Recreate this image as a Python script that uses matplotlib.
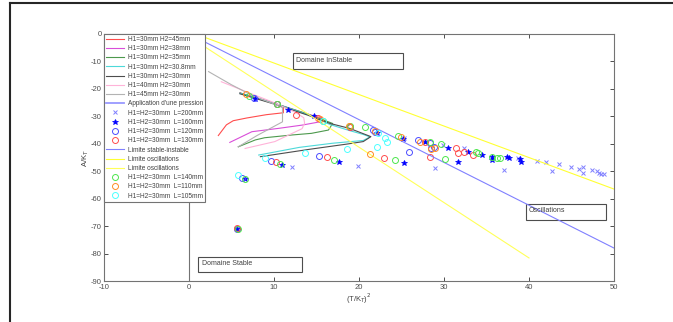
import numpy as np
import matplotlib.pyplot as plt
from matplotlib.lines import Line2D
from matplotlib.patches import Rectangle

plt.rcParams['font.family'] = ['Liberation Sans', 'DejaVu Sans']
plt.rcParams['axes.unicode_minus'] = False

# courbes de stabilite (T/K_T)^2 , A/K_T
h45_x = [6.0, 8.0, 10.0, 11.1, 11.1, 9.1, 6.8, 5.2, 4.4, 3.45]
h45_y = [-21.5, -23.4, -25.3, -26.7, -28.7, -29.4, -30.6, -31.6, -33.1, -37.0]
h38_x = [6.0, 10.0, 14.0, 15.6, 15.4, 13.3, 10.5, 7.4, 5.8, 4.8]
h38_y = [-21.5, -25.2, -29.2, -30.6, -32.0, -33.2, -34.4, -35.6, -38.0, -39.5]
h35_x = [6.0, 10.0, 14.0, 16.9, 16.4, 14.4, 12.1, 8.9, 7.8, 5.8]
h35_y = [-21.5, -25.2, -29.2, -32.6, -35.0, -36.2, -36.8, -37.8, -38.6, -41.1]
h308_x = [6.0, 10.0, 14.0, 16.6, 18.9, 20.5, 21.3, 20.5, 16.9, 13.0, 8.2]
h308_y = [-21.6, -25.3, -29.4, -33.0, -35.2, -36.6, -37.5, -38.8, -39.8, -41.3, -44.1]
h30_x = [6.0, 10.0, 14.0, 16.6, 18.9, 21.4, 20.5, 18.6, 14.2, 8.4]
h30_y = [-21.8, -25.5, -29.6, -32.6, -34.4, -37.4, -39.2, -40.1, -42.0, -44.7]
h40_x = [3.8, 7.2, 10.0, 12.5, 13.5, 13.6, 13.3, 10.1, 6.6]
h40_y = [-17.4, -21.6, -25.0, -28.5, -30.5, -32.5, -34.5, -39.2, -41.7]
h45b_x = [2.3, 5.0, 7.5, 10.3, 11.0, 11.0, 8.0, 5.8]
h45b_y = [-13.7, -18.5, -22.5, -25.9, -26.8, -32.0, -37.0, -41.1]

# limites
lim_si_x = [0, 50]
lim_si_y = [0, -78]
lim_osc1_x = [0, 50]
lim_osc1_y = [0.9, -56.5]
lim_osc2_x = [0, 40]
lim_osc2_y = [-0.9, -81.6]

# mesures H1=H2=30mm
L200_x = [12.1, 19.9, 25.3, 28.9, 29.9, 32.3, 37.0, 38.7, 40.9, 42.0, 42.7, 43.5, 44.9,
          45.9, 46.3, 46.3, 47.4, 48.0, 48.2, 48.5, 48.8]
L200_y = [-48.4, -48.0, -38.0, -48.7, -40.5, -41.7, -49.6, -45.3, -46.2, -46.5, -49.9, -47.4, -48.6,
          -49.3, -48.6, -50.5, -49.6, -49.9, -50.8, -51.0, -51.0]
L160_x = [5.7, 6.6, 7.8, 10.9, 11.7, 14.7, 17.7, 22.1, 25.2, 25.3, 27.8, 30.5, 31.6,
          32.8, 34.5, 35.7, 35.7, 37.4, 37.6, 38.9, 39.0]
L160_y = [-71.1, -53.0, -23.7, -47.6, -27.7, -29.9, -46.5, -36.2, -38.3, -47.1, -39.2, -41.7, -46.5,
          -42.9, -44.1, -44.7, -45.9, -44.9, -45.2, -45.7, -46.5]
L120_x = [5.7, 6.2, 7.6, 10.3, 9.7, 15.3, 18.9, 21.6, 21.9, 25.9, 26.9, 28.4, 28.8, 28.5]
L120_y = [-71.0, -52.5, -23.4, -25.5, -46.3, -44.5, -33.8, -35.0, -35.7, -43.1, -38.6, -39.8, -41.2, -41.7]
L130_x = [5.6, 10.3, 12.6, 15.2, 10.2, 16.2, 18.9, 22.9, 27.8, 28.3, 31.4, 31.7, 32.4, 33.4]
L130_y = [-70.8, -25.5, -29.5, -30.7, -46.8, -44.9, -33.8, -45.1, -39.2, -44.7, -41.7, -43.5, -42.9, -44.1]
L140_x = [5.8, 6.6, 7.1, 10.4, 15.8, 10.7, 17.0, 18.9, 20.7, 24.2, 24.6, 28.3, 29.6, 30.1,
          33.8, 34.0, 35.7, 36.2, 36.6]
L140_y = [-71.0, -53.0, -22.5, -25.6, -31.7, -47.5, -45.9, -33.5, -33.8, -45.9, -37.2, -39.4, -40.1, -45.6,
          -42.9, -43.5, -44.7, -45.3, -45.3]
L110_x = [6.7, 15.4, 18.8, 21.9, 24.9, 21.3, 27.2, 28.5, 28.9]
L110_y = [-22.0, -30.8, -33.5, -35.2, -37.6, -43.8, -39.2, -42.0, -41.5]
L105_x = [5.8, 8.9, 13.6, 15.8, 18.6, 22.1, 22.2, 23.0, 23.3]
L105_y = [-51.5, -45.1, -43.5, -31.7, -41.9, -41.0, -36.0, -38.0, -39.2]

fig = plt.figure(figsize=(6.73, 3.22), dpi=100)
ax = fig.add_axes([104 / 673, 1 - 281 / 322, 510 / 673, 247 / 322])

lw = 0.8
ax.plot(h45_x, h45_y, color=(1, 0.3, 0.3), lw=lw, label='H1=30mm H2=45mm')
ax.plot(h38_x, h38_y, color=(0.85, 0.3, 0.85), lw=lw, label='H1=30mm H2=38mm')
ax.plot(h35_x, h35_y, color=(0.3, 0.6, 0.3), lw=lw, label='H1=30mm H2=35mm')
ax.plot(h308_x, h308_y, color=(0.3, 0.85, 0.85), lw=lw, label='H1=30mm H2=30.8mm')
ax.plot(h30_x, h30_y, color=(0.3, 0.3, 0.3), lw=lw, label='H1=30mm H2=30mm')
ax.plot(h40_x, h40_y, color=(1, 0.7, 0.85), lw=lw, label='H1=40mm H2=30mm')
ax.plot(h45b_x, h45b_y, color=(0.7, 0.7, 0.7), lw=lw, label='H1=45mm H2=30mm')
ax.plot([], [], color=(0.6, 0.6, 1), lw=1.3, label="Application d'une pression")

ms = 4.3
ax.plot(L200_x, L200_y, 'x', color=(0.5, 0.5, 1), ms=3, mew=0.7, label='H1=H2=30mm  L=200mm')
ax.plot(L160_x, L160_y, '*', color=(0, 0, 1), ms=4, mew=0.5, label='H1=H2=30mm  L=160mm')
ax.plot(L120_x, L120_y, 'o', mfc='none', mec=(0.3, 0.3, 1), ms=ms, mew=0.7, label='H1=H2=30mm  L=120mm')
ax.plot(L130_x, L130_y, 'o', mfc='none', mec=(1, 0.3, 0.3), ms=ms, mew=0.7, label='H1=H2=30mm  L=130mm')
ax.plot(lim_si_x, lim_si_y, color=(0.5, 0.5, 1), lw=lw, label='Limite stable-instable')
ax.plot(lim_osc1_x, lim_osc1_y, color=(1, 1, 0.2), lw=lw, label='Limite oscillations')
ax.plot(lim_osc2_x, lim_osc2_y, color=(1, 1, 0.35), lw=lw, label='Limite oscillations')
ax.plot(L140_x, L140_y, 'o', mfc='none', mec=(0.3, 0.9, 0.3), ms=ms, mew=0.7, label='H1=H2=30mm  L=140mm')
ax.plot(L110_x, L110_y, 'o', mfc='none', mec=(1, 0.55, 0.15), ms=ms, mew=0.7, label='H1=H2=30mm  L=110mm')
ax.plot(L105_x, L105_y, 'o', mfc='none', mec=(0.3, 1, 1), ms=ms, mew=0.7, label='H1=H2=30mm  L=105mm')

ax.axvline(0, color=(0.45, 0.45, 0.45), lw=0.8)

# zones
zones = [('Domaine InStable', 12.2, -12.8, 13.0, 5.8),
         ('Domaine Stable', 1.1, -86.7, 12.2, 5.4),
         ('Oscillations', 39.6, -67.8, 9.4, 5.8)]
for txt, x0, y0, w, h in zones:
    ax.add_patch(Rectangle((x0, y0), w, h, fill=False, ec=(0.3, 0.3, 0.3), lw=0.8))
    ax.text(x0 + 0.4, y0 + h - 1.2, txt, fontsize=5, color=(0.25, 0.25, 0.25), va='top', ha='left')

ax.set_xlim(-10, 50)
ax.set_ylim(-90, 0)
ax.set_xticks(np.arange(-10, 51, 10))
ax.set_yticks(np.arange(-90, 1, 10))
ax.tick_params(direction='in', top=True, right=True, labelsize=5.5, colors=(0.3, 0.3, 0.3),
               length=3, width=0.7, pad=1.5)
ax.tick_params(axis='x', pad=2.5)
for s in ax.spines.values():
    s.set_color((0.45, 0.45, 0.45))
    s.set_linewidth(0.8)
ax.set_xlabel('(T/K$_T$)$^2$', fontsize=5.5, color=(0.25, 0.25, 0.25), labelpad=0)
ax.set_ylabel('A/K$_T$', fontsize=5.5, color=(0.25, 0.25, 0.25), labelpad=0)

leg = ax.legend(loc='upper left', bbox_to_anchor=(0, 1), borderaxespad=0, fontsize=4.7,
                handlelength=2.8, handletextpad=0.5, labelspacing=0.34, borderpad=0.3,
                fancybox=False, framealpha=1, edgecolor=(0.45, 0.45, 0.45))
leg.get_frame().set_linewidth(0.8)
for t in leg.get_texts():
    t.set_color((0.25, 0.25, 0.25))

# cadre exterieur
fig.add_artist(Line2D([10 / 673, 1], [1 - 3 / 322, 1 - 3 / 322], color=(0.15, 0.15, 0.15), lw=1.5))
fig.add_artist(Line2D([10 / 673, 10 / 673], [0, 1 - 3 / 322], color=(0.15, 0.15, 0.15), lw=1.5))

fig.savefig('out.png', dpi=100)
